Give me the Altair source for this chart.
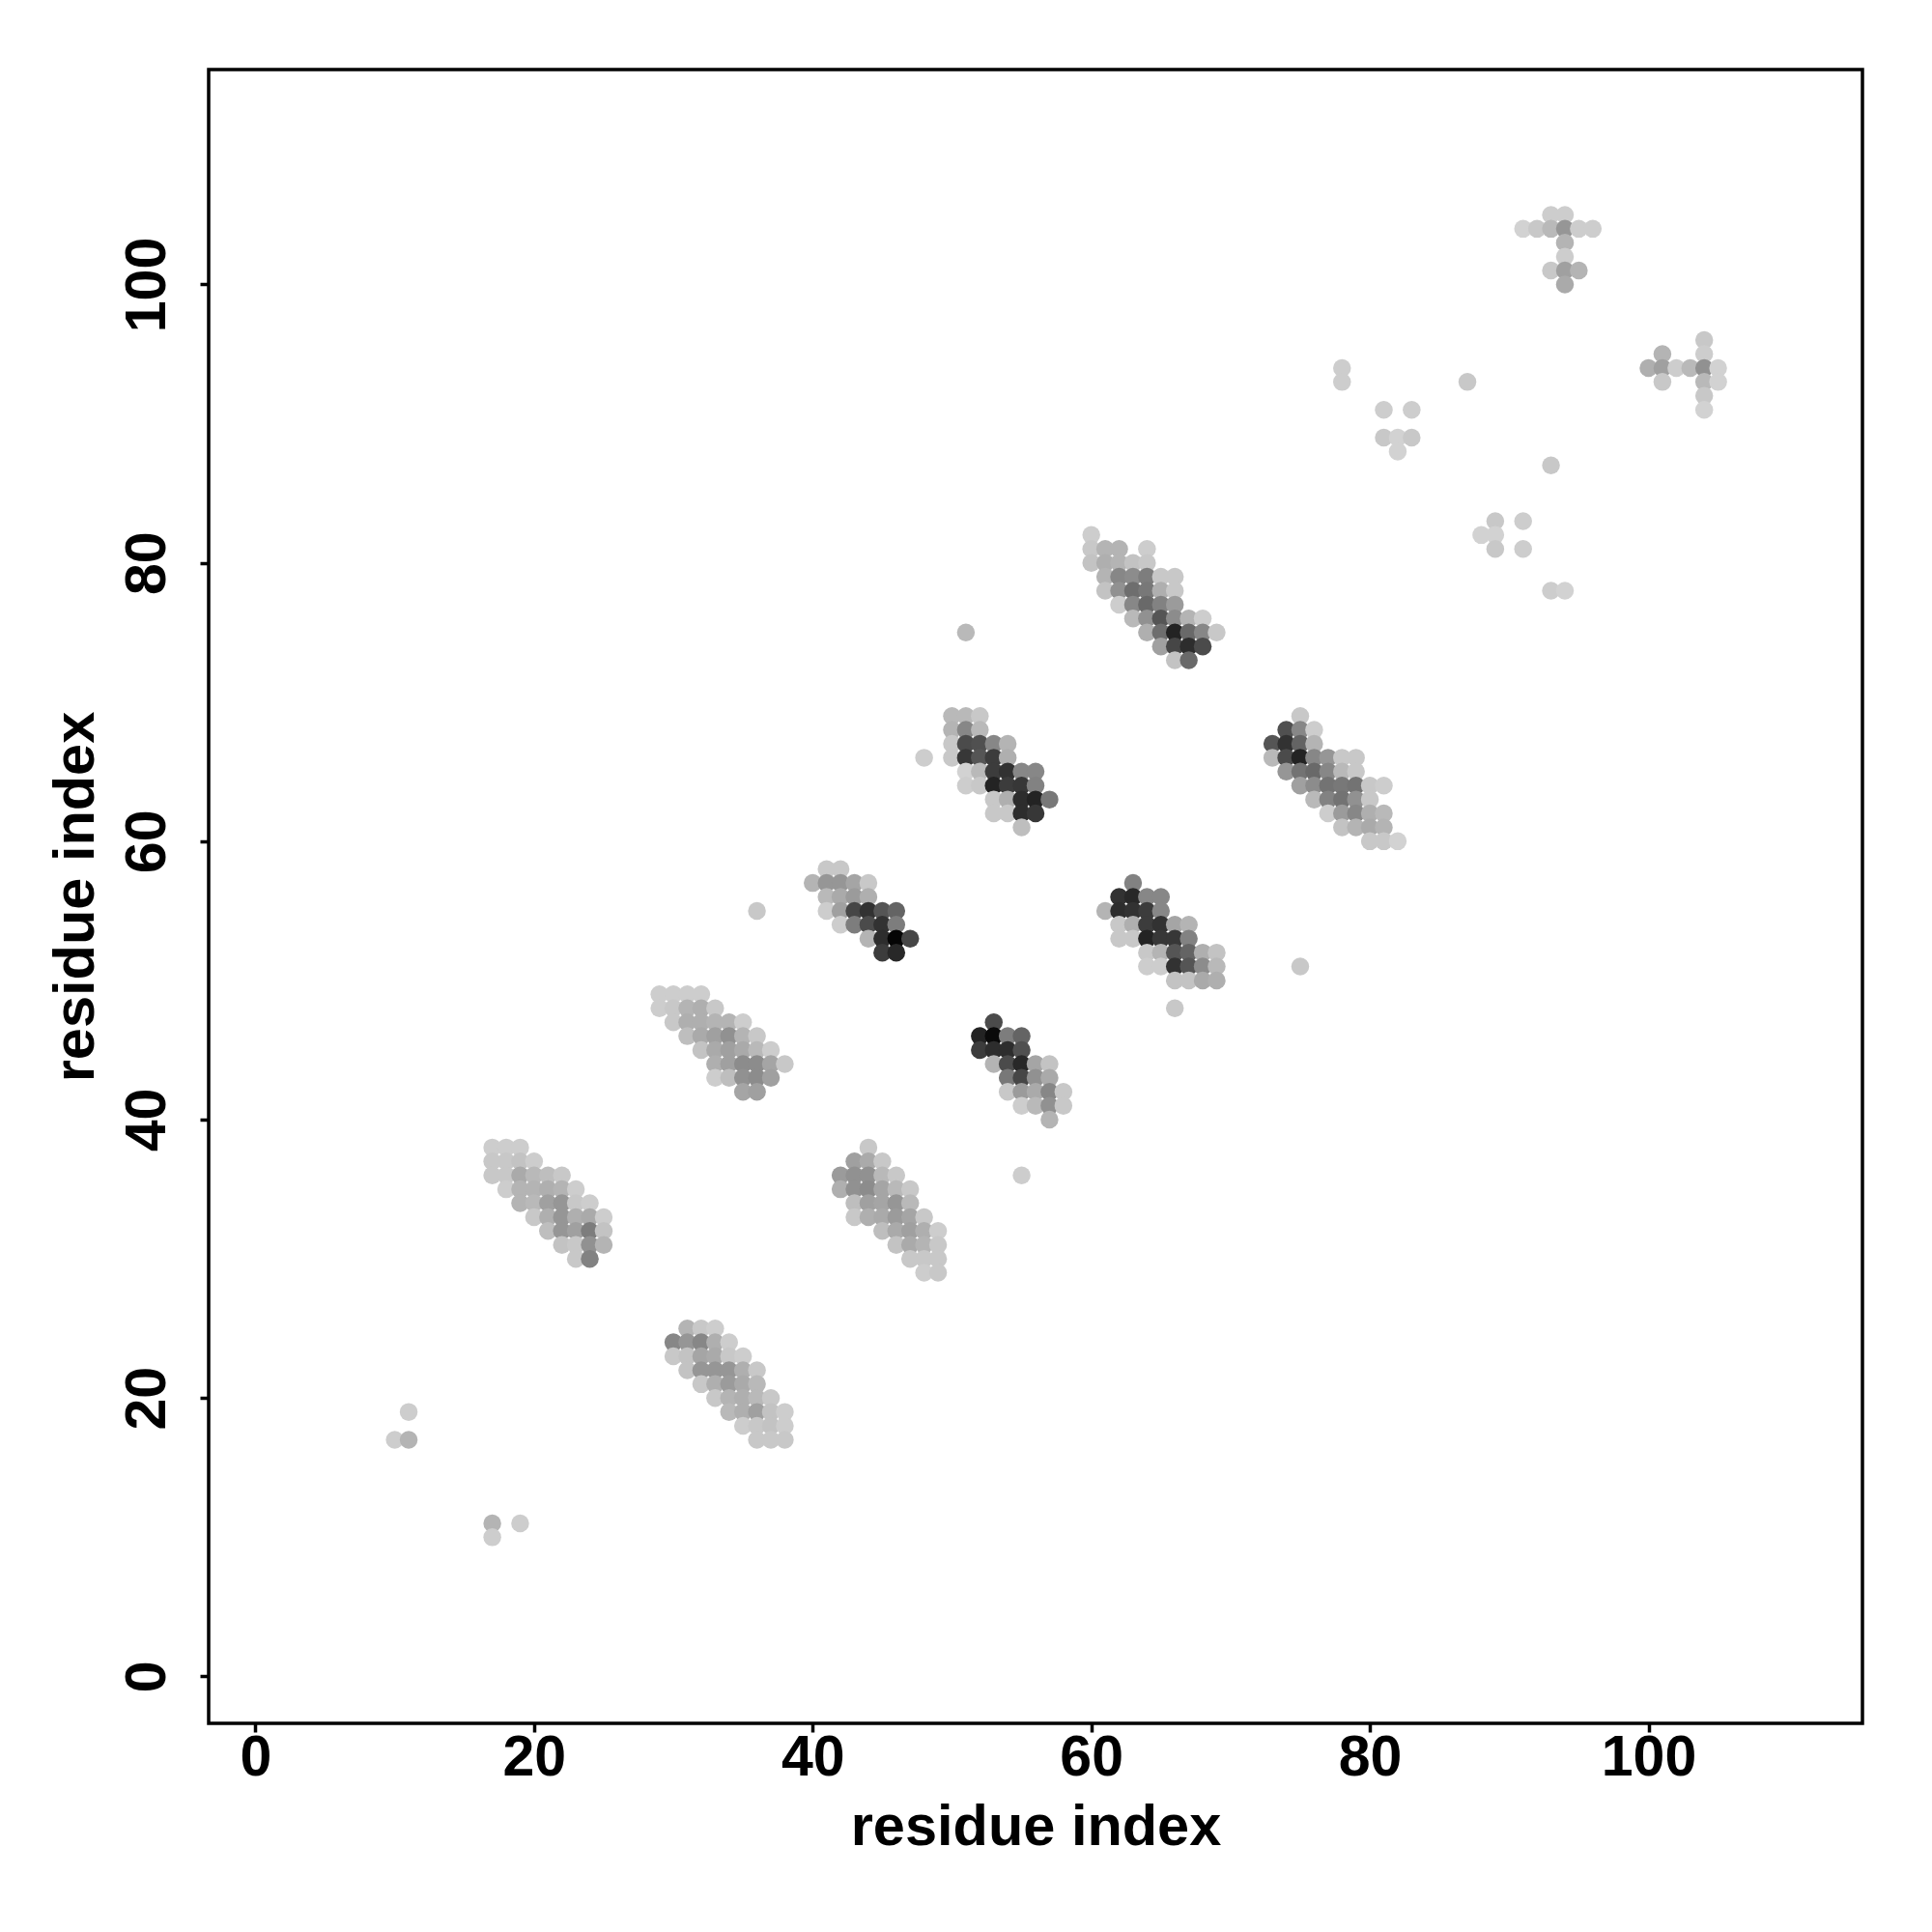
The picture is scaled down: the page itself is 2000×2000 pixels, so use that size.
import altair as alt
import pandas as pd

# each entry: (y residue, first x residue, shades of consecutive x residues)
block_a = [(38,17,[205,205,205]),(37,17,[195,190,185,205]),(36,17,[190,190,160,175,180,190]),
           (35,18,[205,170,170,165,170,205]),(34,19,[170,175,150,140,190,205]),(33,20,[190,165,140,165,160,205]),
           (32,21,[180,140,150,115,185]),(31,22,[185,190,135,170]),(30,23,[195,120])]
block_b = [(25,31,[170,190,205]),(24,30,[125,140,125,165,205]),(23,30,[195,185,155,160,190,205]),
           (22,31,[185,140,140,140,165,190]),(21,32,[190,165,145,160,175]),(20,33,[190,170,165,175,195]),
           (19,34,[175,165,150,185,205]),(18,35,[205,195,185,205]),(17,36,[195,195,200])]
block_c = [(49,29,[205,205,205,205]),(48,29,[205,190,170,165,195]),(47,30,[190,165,165,170,170,205]),
           (46,31,[180,160,150,135,170,195]),(45,32,[185,160,150,160,175,205]),(44,33,[165,150,130,130,155,190]),
           (43,33,[205,180,135,130,150]),(42,35,[155,150])]
block_d = [(38,44,[190]),(37,43,[150,160,200]),(36,42,[145,135,135,175,190]),(35,42,[165,135,130,155,175,200]),
           (34,43,[180,150,155,140,175]),(33,43,[200,165,160,145,155,195]),(32,45,[180,160,150,165,205]),
           (31,46,[185,160,170,195]),(30,47,[190,190,200]),(29,48,[205,200])]
block_e = [(58,41,[200,200]),(57,40,[170,140,140,155,190]),(56,41,[175,160,145,165]),
           (55,41,[205,150,70,50,85,90]),(54,42,[205,115,75,50,115]),(53,44,[170,45,5,70]),(52,45,[60,40])]
block_f = [(47,53,[75]),(46,52,[35,10,115,90]),(45,52,[60,45,45,80]),(44,53,[170,75,40,155,185]),
           (43,54,[110,70,135,160]),(42,54,[195,145,160,125,195]),(41,55,[205,175,135,195]),(40,57,[170])]
block_g = [(69,50,[175,175,190]),(68,50,[170,125,175]),(67,50,[200,75,80,125,170]),(66,50,[200,55,85,60,165]),
           (65,51,[210,175,60,50,125,125]),(64,51,[205,200,35,60,55,120]),(63,53,[190,165,45,35,110]),
           (62,53,[200,200,45,55]),(61,55,[180])]
block_h = [(57,63,[120]),(56,62,[50,40,125,125]),(55,61,[170,45,50,60,125]),(54,62,[200,165,60,50,155,170]),
           (53,62,[200,190,35,55,55,120]),(52,64,[190,170,85,90,165,185]),(51,64,[205,205,50,85,130,175]),
           (50,66,[185,185,160,165])]
block_i = [(82,60,[205]),(81,60,[190,170,170]),(81,64,[205]),(80,60,[185,165,170,185,190]),
           (79,61,[170,125,130,115,200,200]),(78,61,[185,135,100,110,165,200]),(77,62,[205,125,95,120,145]),
           (76,63,[175,135,85,130,170,205]),(75,64,[165,100,35,95,125,195]),(74,65,[150,70,45,75]),(73,66,[185,95])]
block_j = [(69,75,[190]),(68,74,[80,125,205]),(67,73,[85,50,90,170]),(66,73,[175,75,35,125,140,195,200]),
           (65,74,[140,105,95,125,175,200]),(64,75,[150,130,105,110,105,195,205]),(63,76,[175,120,105,135,190]),
           (62,77,[205,145,125,165,175]),(61,78,[185,170,160,170]),(60,80,[190,195,210])]
block_k = [(105,93,[205,205]),(104,91,[210,200,175,140,205,205]),(103,94,[170]),(102,94,[205]),
           (101,93,[195,150,170]),(100,94,[160])]
block_l = [(96,104,[200]),(95,101,[170]),(95,104,[205]),(94,100,[165,150,205,175,135,210]),
           (93,101,[190]),(93,104,[175,210]),(92,104,[195]),(91,104,[210])]
scattered = [(94,78,[205]),(93,78,[205]),(91,81,[205]),(91,83,[205]),(89,81,[200,210,200]),(88,82,[210]),
             (93,87,[190]),(87,93,[195]),(83,89,[200]),(83,91,[205]),(82,88,[210,210]),(81,89,[200]),(81,91,[205]),
             (78,93,[205,210]),(75,51,[175]),(66,48,[205]),(55,36,[200]),(51,75,[190]),(48,66,[190]),(36,55,[205]),
             (19,11,[205]),(17,10,[205,170]),(11,17,[170]),(10,17,[205]),(11,19,[205])]

x_ticks = [0, 20, 40, 60, 80, 100]
axis_label = "residue index"

blocks = [block_a, block_b, block_c, block_d, block_e, block_f, block_g, block_h,
          block_i, block_j, block_k, block_l, scattered]


def grey(s):
    # the mid tones were read slightly too dark from the crops
    if s >= 90:
        s = min(s + 10, max(s, 200))
    return f"#{s:02x}{s:02x}{s:02x}"


records = []
for block in blocks:
    for row, first, shades in block:
        for offset, s in enumerate(shades):
            records.append({"x": first + offset, "y": row, "colour": grey(s)})
df = pd.DataFrame(records)

FONT = "Liberation Sans"


def axis():
    return alt.Axis(values=x_ticks, grid=False, domain=False, ticks=True, tickSize=9, tickWidth=3.5,
                    tickColor="black", labelFont=FONT, labelFontWeight="bold", labelFontSize=59,
                    labelColor="black", titleFont=FONT, titleFontWeight="bold", titleFontSize=59.5,
                    titleColor="black", title=axis_label, labelFlush=False, labelOverlap=False)


x_axis = axis()
x_axis.labelPadding = -3
x_axis.titlePadding = 13
y_axis = axis()
y_axis.labelAngle = 270
y_axis.labelAlign = "center"
y_axis.labelBaseline = "bottom"
y_axis.labelPadding = 25
y_axis.titlePadding = 15

chart = (
    alt.Chart(df)
    .mark_circle(size=342, opacity=1)
    .encode(
        x=alt.X("x:Q", scale=alt.Scale(domain=[-3.36, 115.36], nice=False, zero=False), axis=x_axis),
        y=alt.Y("y:Q", scale=alt.Scale(domain=[-3.37, 115.44], nice=False, zero=False), axis=y_axis),
        color=alt.Color("colour:N", scale=None),
    )
    .properties(
        width=1712,
        height=1712,
        autosize=alt.AutoSizeParams(type="none"),
        padding={"left": 208, "top": 64, "right": 60, "bottom": 200},
        background="white",
    )
    .configure_view(stroke="black", strokeWidth=3.5)
)

chart.save("out.html", embed_options={"renderer": "svg", "actions": False})
